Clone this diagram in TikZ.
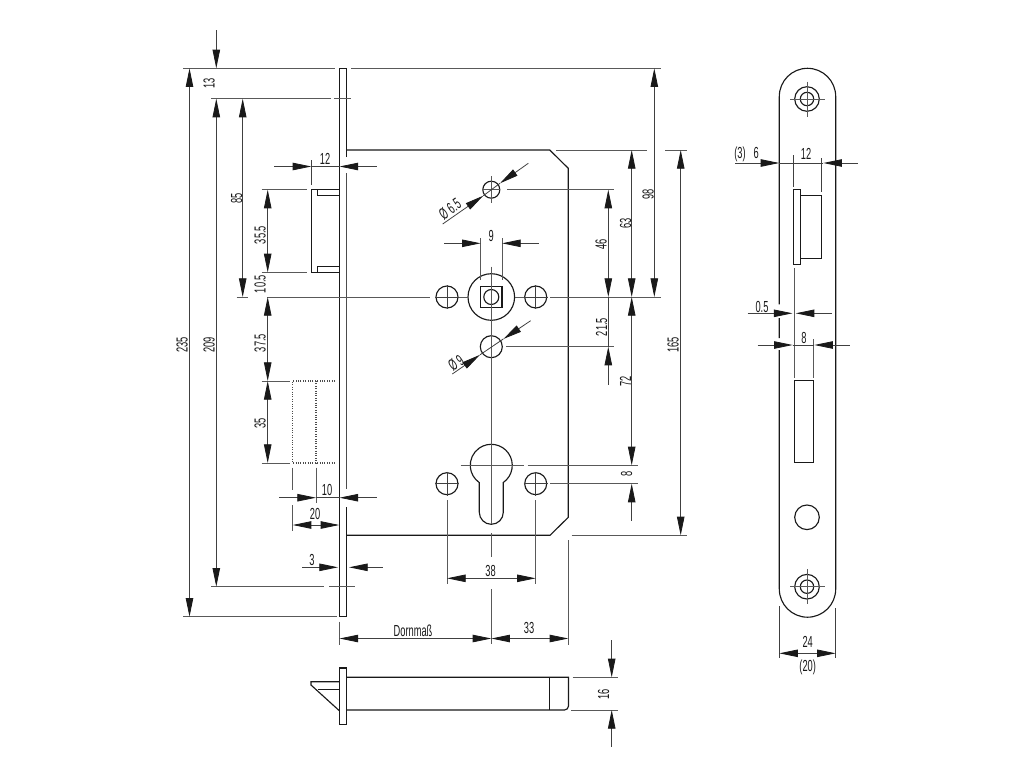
\documentclass[tikz,border=0pt]{standalone}
\usepackage{fontspec}
\setmainfont[FakeStretch=0.58]{Liberation Sans}
\usetikzlibrary{arrows.meta}
\tikzset{
  >={Triangle[length=14pt,width=5.6pt,color=black!90]},
  part/.style={draw=black!90,line width=0.85pt},
  dim/.style={draw=black!75,line width=0.6pt},
  ext/.style={draw=black!65,line width=0.6pt},
  hid/.style={draw=black!70,line width=0.8pt,densely dotted},
  lbl/.style={inner sep=0pt,text=black!90,font=\fontsize{12}{14}\selectfont},
  vlbl/.style={lbl,rotate=90}
}
\begin{document}
\begin{tikzpicture}[x=0.75pt,y=-0.75pt]
\useasboundingbox (0,0) rectangle (1024,768);

% face plate and case
\draw[part] (346.8,157) -- (346.8,68.3) -- (339.5,68.3) -- (339.5,616.7) -- (346.8,616.7) -- (346.8,507);
\draw[part,draw=black!70,line width=1pt] (346.8,173) -- (346.8,489);
\draw[part] (346.8,150) -- (549.7,150) -- (568.3,168.3) -- (568.3,517.3) -- (550,535.3) -- (346.8,535.3);

% bolt and latch
\draw[part] (339.5,189.7) -- (311.3,189.7) -- (311.3,272.3) -- (339.5,272.3);
\draw[part] (339.5,195.7) -- (317.5,195.7) -- (317.5,189.7) (339.5,266.3) -- (317.5,266.3) -- (317.5,272.3);
\draw[hid] (335,381) -- (292.7,381) -- (292.7,463) -- (335,463) (316,381) -- (316,463);

% holes
\foreach \cx/\cy/\r in {491.3/189.7/8.5,491.3/346.7/11,447/297/11,535.7/297/11,447/483.7/11,535.7/483.7/11} {
  \draw[part] (\cx,\cy) circle (\r);
}
\foreach \cx/\cy in {447/297,535.7/297,447/483.7,535.7/483.7} {
  \draw[dim] (\cx-12,\cy) -- (\cx+12,\cy) (\cx,\cy-12) -- (\cx,\cy+12);
}
\draw[part] (491.3,297) circle (23.3) (491.3,297) circle (7.5);
\draw[part] (480.7,286.3) rectangle (502,307.7);
\draw[part] (503.3,482.5) arc[start angle=55,end angle=-235,radius=21] -- (479.3,512.3)
  arc[start angle=180,end angle=0,radius=12] -- cycle;

% centre lines
\draw[ext] (267,297) -- (430,297) (459,297) -- (468,297) (514.6,297) -- (523.7,297) (550,297) -- (660.7,297);
\draw[ext] (491.3,176) -- (491.3,203) (482,189.7) -- (500,189.7);
\draw[ext] (491.3,266.7) -- (491.3,524) (491.3,533) -- (491.3,557) (491.3,589) -- (491.3,644);
\draw[ext] (460.7,465.3) -- (524.3,465.3) (527.7,465.3) -- (637.7,465.3);

% extension lines, left
\draw[ext] (183,68.3) -- (335,68.3) (351,68.3) -- (660.7,68.3);
\draw[ext] (211,98.7) -- (330.7,98.7) (334,98.7) -- (351,98.7);
\draw[ext] (236.7,297) -- (248,297);
\draw[ext] (261.7,189.7) -- (306.7,189.7) (261.7,272.3) -- (306.7,272.3);
\draw[ext] (261.7,381) -- (289.7,381) (261.7,463) -- (289.7,463);
\draw[ext] (292.7,467.7) -- (292.7,490) (292.7,505) -- (292.7,530.7) (316,467.7) -- (316,503);
\draw[ext] (211,586.7) -- (324,586.7) (329,586.7) -- (355.3,586.7);
\draw[ext] (183,616.7) -- (336.7,616.7);
\draw[dim] (311.3,160) -- (311.3,185);

% extension lines, right
\draw[ext] (556,150) -- (646.7,150) (665,150) -- (686.7,150);
\draw[ext] (571.7,535.3) -- (686.7,535.3);
\draw[ext] (507.3,189.7) -- (614.3,189.7) (506,346.7) -- (614.3,346.7);
\draw[ext] (550,483.7) -- (637.7,483.7);
\draw[ext] (480.7,238) -- (480.7,280) (502,238) -- (502,280);
\draw[ext] (447,500) -- (447,584.3) (535.7,500) -- (535.7,584.3);
\draw[ext] (339.5,621.7) -- (339.5,644.5) (568.3,540) -- (568.3,645);

% dimension lines, left
\draw[dim,<->] (189.5,68.3) -- (189.5,616.7);
\draw[dim,->] (216.3,30) -- (216.3,68.3);
\draw[dim,<->] (216.3,98.7) -- (216.3,586.7);
\draw[dim,<->] (242.7,98.7) -- (242.7,297);
\draw[dim,<->] (267.7,189.7) -- (267.7,272.3);
\draw[dim,<->] (267.7,297) -- (267.7,381);
\draw[dim,<->] (267.7,381) -- (267.7,463);
\draw[dim,->] (274.3,166.5) -- (311.3,166.5);
\draw[dim,<-] (339.5,166.5) -- (376.7,166.5);
\draw[dim] (311.3,166.5) -- (339.5,166.5);
\draw[dim,->] (279,497.7) -- (316,497.7);
\draw[dim,<-] (339.5,497.7) -- (376.7,497.7);
\draw[dim] (316,497.7) -- (339.5,497.7);
\draw[dim,<->] (292.7,525) -- (339.3,525);
\draw[dim,->] (302.3,567.3) -- (338,567.3);
\draw[dim,<-] (349,567.3) -- (383.3,567.3);

% dimension lines, right
\draw[dim,<->] (654.3,68.3) -- (654.3,297);
\draw[dim,<->] (631.7,150) -- (631.7,297);
\draw[dim,<->] (631.7,297) -- (631.7,465.3);
\draw[dim,<-] (631.7,483.7) -- (631.7,521);
\draw[dim,<->] (680.7,150) -- (680.7,535.3);
\draw[dim,<->] (608.3,189.7) -- (608.3,297);
\draw[dim] (608.3,297) -- (608.3,346.7);
\draw[dim,<-] (608.3,346.7) -- (608.3,384.7);
\draw[dim,->] (444,243.3) -- (480.7,243.3);
\draw[dim,<-] (502,243.3) -- (539,243.3);
\draw[dim,<->] (447,578.3) -- (535.7,578.3);
\draw[dim,<->] (339.5,638.5) -- (491.3,638.5);
\draw[dim,<->] (491.3,638.5) -- (568.3,638.5);

% diameters
\draw[dim,<-] (500,183.3) -- (528.3,163.3);
\draw[dim,<-] (483.3,195.7) -- (442.7,224);
\draw[dim] (483.3,195.7) -- (500,183.3);
\draw[dim,<-] (503.3,339) -- (530.7,320.7);
\draw[dim,<-] (480,354.8) -- (452.3,374);
\draw[dim] (480,354.8) -- (503.3,339);

% side view
\draw[part] (339.3,668) rectangle (346.7,724.3);
\draw[part] (346.7,677.3) -- (568.5,677.3) {[rounded corners=3pt] -- (568.5,710) -- (346.7,710)};
\draw[part] (549.7,677.3) -- (549.7,710);
\draw[part] (339.3,681.7) -- (311,681.7) -- (311,685) -- (339.3,710.7);
\draw[part] (318.3,689.3) -- (339.3,689.3);
\draw[ext] (572.7,677.3) -- (618.3,677.3) (571,710) -- (618.3,710);
\draw[dim,->] (611.7,640) -- (611.7,677.3);
\draw[dim,<-] (611.7,710) -- (611.7,746.7);

% front plate
\draw[part] (779.3,96.5) arc[start angle=180,end angle=360,radius=28.2] -- (835.7,589)
  arc[start angle=0,end angle=180,radius=28.2] -- (779.3,350) (779.3,338) -- (779.3,318) (779.3,304.3) -- (779.3,96.5);
\foreach \cy in {99,586.7} {
  \draw[part] (807,\cy) circle (12.3) (807,\cy) circle (6.7);
  \draw[ext] (790,\cy) -- (825,\cy) (807,\cy-17.5) -- (807,\cy+17.5);
}
\draw[part] (807,517.3) circle (12.3);
\draw[part] (794.3,380.7) rectangle (813.3,462.7);
\draw[part] (793.3,189.3) rectangle (800.7,264.3);
\draw[part] (800.7,195.7) -- (821.7,195.7) -- (821.7,258.7) -- (800.7,258.7);
\draw[dim] (793.3,155) -- (793.3,186.7) (821,158) -- (821,191.7);
\draw[ext] (794.7,268) -- (794.7,378) (813.3,339) -- (813.3,378);
\draw[dim,->] (735,163) -- (779.3,163);
\draw[dim,<-] (823.3,163) -- (858.3,163);
\draw[dim] (779.3,163) -- (823.3,163);
\draw[dim,->] (747.7,313.3) -- (792.5,313.3);
\draw[dim,<-] (795.7,313.3) -- (831.7,313.3);
\draw[dim,->] (757.7,345) -- (792.7,345);
\draw[dim,<-] (814.3,345) -- (850,345);
\draw[dim] (792.7,345) -- (814.3,345);
\draw[dim] (779.3,606) -- (779.3,658) (835.7,608) -- (835.7,658);
\draw[dim,<->] (779.3,653.3) -- (835.7,653.3);

% labels
\node[vlbl] (l235) at (182,345) {235};
\node[vlbl] (l209) at (209,345) {209};
\node[vlbl] (l13) at (209,83) {13};
\node[vlbl] (l85) at (236.5,198) {85};
\node[vlbl] (l355) at (260,235) {35.5};
\node[vlbl] (l105) at (260,284) {10.5};
\node[vlbl] (l375) at (260,343) {37.5};
\node[vlbl] (l35) at (260,423) {35};
\node[lbl] (l12a) at (325,159) {12};
\node[lbl] (l10) at (327,490) {10};
\node[lbl] (l20) at (315,513.5) {20};
\node[lbl] (l3) at (312,560) {3};
\node[lbl] (ldorn) at (413,631) {Dornmaß};
\node[lbl] (l33) at (529,628) {33};
\node[lbl] (l38) at (490.5,570.5) {38};
\node[lbl] (l9) at (491.3,236) {9};
\node[vlbl] (l46) at (601,244) {46};
\node[vlbl] (l215) at (601.5,327) {21.5};
\node[vlbl] (l63) at (625.5,223) {63};
\node[vlbl] (l72) at (625.5,381.5) {72};
\node[vlbl] (l8a) at (626.5,474) {8};
\node[vlbl] (l98) at (648,194) {98};
\node[vlbl] (l165) at (673,345) {165};
\node[vlbl] (l16) at (603.5,694) {16};
\node[lbl,rotate=35] (lphia) at (450,209) {Ø 6.5};
\node[lbl,rotate=35] (lphib) at (456,363) {Ø 9};
\node[lbl] (l36) at (746.5,154) {(3)\,\, 6};
\node[lbl] (l12b) at (806,154) {12};
\node[lbl] (l05) at (762,307) {0.5};
\node[lbl] (l8b) at (804,338) {8};
\node[lbl] (l24) at (807.7,642) {24};
\node[lbl] (l20b) at (807.7,667.7) {(20)};
\end{tikzpicture}
\end{document}
